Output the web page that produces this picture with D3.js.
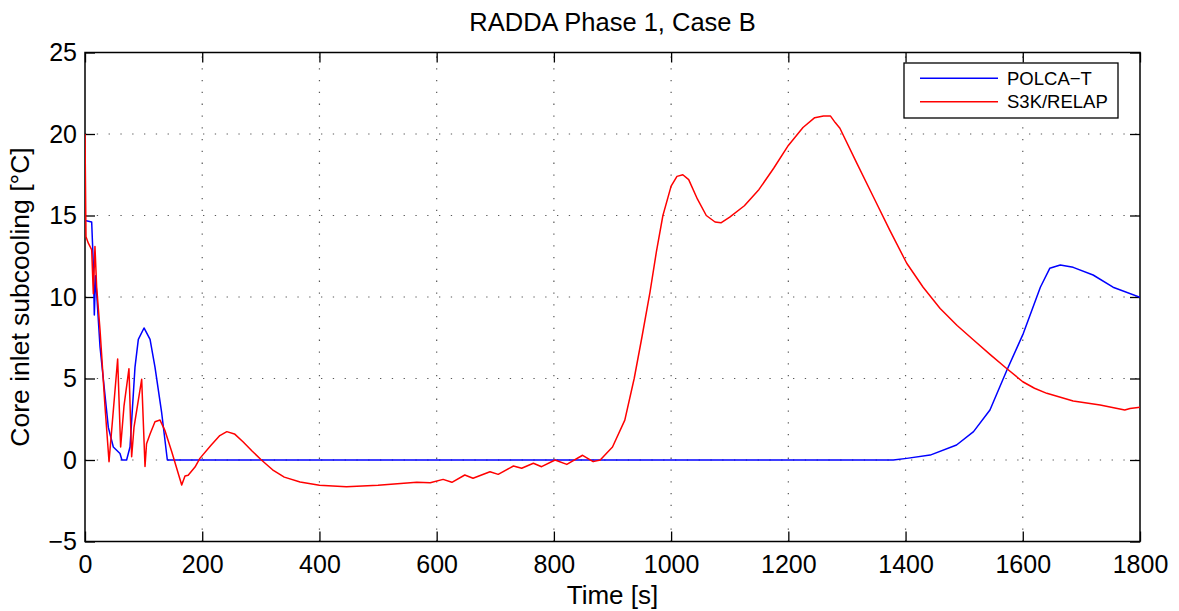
<!DOCTYPE html>
<html><head><meta charset="utf-8">
<script src="https://cdn.jsdelivr.net/npm/d3@7"></script>
<style>body{margin:0;background:#fff;} text{font-family:"Liberation Sans",Arial,sans-serif;}</style>
</head><body><svg id="c" width="1179" height="611"></svg>
<script>
const title = "RADDA Phase 1, Case B";
const xLabel = "Time [s]";
const yLabel = "Core inlet subcooling [°C]";
const xTicks = [0,200,400,600,800,1000,1200,1400,1600,1800];
const yTicks = [-5,0,5,10,15,20,25];
const seriesNames = ["POLCA\u2212T","S3K/RELAP"];
const seriesColors = ["#0000ff","#ff0000"];

const polcaT = [0,11.4,14.2,15.9,18,25.6,39.8,48.3,59.7,63,71,76.8,85.3,91,100.7,111,119.4,130.8,140.5,400,720,760,1000,1379,1402,1442,1487,1516,1544,1573,1601,1630,1646,1664,1686,1720,1754,1800];
const polcaV = [14.7,14.6,12,8.9,11.3,6.95,2.0,0.8,0.4,0,0,0.8,5.7,7.4,8.1,7.4,5.7,2.9,0,0,0,0,0,0,0.1,0.3,0.92,1.74,3.07,5.52,7.77,10.6,11.76,11.96,11.82,11.35,10.6,9.98];

const s3kT = [0,1.7,5.7,11.4,14.2,17,19.9,25.6,34.1,41,55.7,60.8,66.5,75,79.6,83.6,96.7,102.4,105,111,119.4,128,136.5,148,165,170.6,176,187.7,196,215,230,242,255,270,285,301,320,340,367,400,446,500,566,589,611,626,648,662,691,705,731,745,765,779,802,822,849,867,879,900,921,937,950,964,975,986,1000,1010,1020,1030,1045,1060,1075,1085,1100,1125,1150,1175,1200,1225,1245,1260,1272,1280,1288,1317,1345,1373,1402,1430,1459,1488,1516,1545,1573,1600,1620,1641,1686,1732,1774,1783,1800];
const s3kV = [20,13.7,13.3,12.9,10.2,13.1,10.6,8.0,3.3,-0.1,6.2,0.8,3.3,5.6,0.2,2.0,4.95,-0.4,1.0,1.6,2.35,2.45,1.8,0.5,-1.53,-0.98,-0.94,-0.43,0.1,0.9,1.5,1.74,1.6,1.1,0.55,0,-0.6,-1.05,-1.35,-1.55,-1.64,-1.55,-1.37,-1.4,-1.19,-1.37,-0.92,-1.12,-0.72,-0.88,-0.37,-0.51,-0.2,-0.41,0,-0.27,0.29,-0.1,0,0.8,2.45,5,7.5,10.3,12.8,15,16.8,17.4,17.5,17.2,16.0,15.0,14.6,14.55,14.9,15.6,16.6,17.9,19.3,20.4,21.0,21.1,21.1,20.7,20.35,18.2,16.15,14.1,12.07,10.6,9.3,8.25,7.36,6.45,5.6,4.8,4.4,4.09,3.62,3.37,3.07,3.16,3.23];

const svg = d3.select("#c");
const L=85, R=1140, T=52.5, B=541.5;
const x = d3.scaleLinear().domain([0,1800]).range([L,R]);
const y = d3.scaleLinear().domain([-5,25]).range([B,T]);
const fmt = d => d<0 ? "\u2212"+Math.abs(d) : String(d);

// grid
const g = svg.append("g");
g.selectAll(".vg").data(xTicks.slice(1,-1)).enter().append("line")
 .attr("x1",d=>x(d)).attr("x2",d=>x(d)).attr("y1",B).attr("y2",T)
 .attr("stroke","#000").attr("stroke-width",1.2).attr("stroke-dasharray","1.3,10.5").attr("opacity",0.65);
g.selectAll(".hg").data(yTicks.slice(1,-1)).enter().append("line")
 .attr("y1",d=>y(d)).attr("y2",d=>y(d)).attr("x1",L).attr("x2",R)
 .attr("stroke","#000").attr("stroke-width",1.2).attr("stroke-dasharray","1.3,10.5").attr("opacity",0.65);

// axes
const ax = d3.axisBottom(x).tickValues(xTicks).tickSize(-10).tickPadding(14).tickFormat(fmt);
const axT = d3.axisTop(x).tickValues(xTicks).tickSize(-10).tickFormat("");
const ay = d3.axisLeft(y).tickValues(yTicks).tickSize(-10).tickPadding(8).tickFormat(fmt);
const ayR = d3.axisRight(y).tickValues(yTicks).tickSize(-10).tickFormat("");
function style(sel){ sel.select(".domain").remove(); sel.selectAll("line").attr("stroke","#000").attr("stroke-width",1.3);
  sel.selectAll("text").attr("font-size",25).attr("fill","#000").style("font-family","'Liberation Sans',Arial,sans-serif"); }
svg.append("g").attr("transform",`translate(0,${B})`).call(ax).call(style);
svg.append("g").attr("transform",`translate(0,${T})`).call(axT).call(style);
svg.append("g").attr("transform",`translate(${L},0)`).call(ay).call(style);
svg.append("g").attr("transform",`translate(${R},0)`).call(ayR).call(style);
svg.append("rect").attr("x",L).attr("y",T).attr("width",R-L).attr("height",B-T)
 .attr("fill","none").attr("stroke","#000").attr("stroke-width",1.5);

// lines
svg.append("clipPath").attr("id","cp").append("rect").attr("x",L).attr("y",T).attr("width",R-L).attr("height",B-T);
const line = d3.line().x(d=>x(d[0])).y(d=>y(d[1]));
const data = [d3.zip(polcaT,polcaV), d3.zip(s3kT,s3kV)];
data.forEach((dd,i)=>{
  svg.append("path").attr("d",line(dd)).attr("fill","none").attr("stroke",seriesColors[i])
   .attr("stroke-width",1.5).attr("stroke-linejoin","round").attr("clip-path","url(#cp)");
});

// title & labels
svg.append("text").attr("x",(L+R)/2).attr("y",31).attr("text-anchor","middle").attr("font-size",25.5).text(title);
svg.append("text").attr("x",(L+R)/2).attr("y",604).attr("text-anchor","middle").attr("font-size",26).text(xLabel);
svg.append("text").attr("transform",`translate(29,${(T+B)/2}) rotate(-90)`).attr("text-anchor","middle").attr("font-size",26.5).text(yLabel);

// legend
const lg = svg.append("g");
lg.append("rect").attr("x",904).attr("y",63).attr("width",214).attr("height",55).attr("fill","#fff").attr("stroke","#000").attr("stroke-width",1.3);
seriesNames.forEach((n,i)=>{
  const yy = 78.3 + i*23.4;
  lg.append("line").attr("x1",920).attr("x2",998).attr("y1",yy).attr("y2",yy).attr("stroke",seriesColors[i]).attr("stroke-width",1.5);
  lg.append("text").attr("x",1007).attr("y",yy+6.7).attr("font-size",18.5).text(n);
});
</script></body></html>
